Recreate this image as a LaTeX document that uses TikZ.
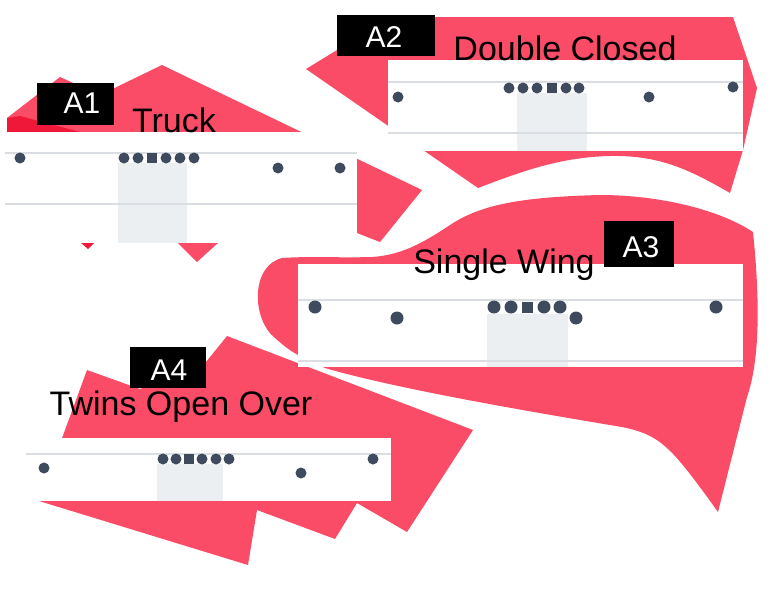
\documentclass[tikz,border=0pt]{standalone}
\usepackage{fontspec}
\setmainfont{Liberation Sans}
\definecolor{blobred}{RGB}{250,76,103}
\definecolor{blobdark}{RGB}{240,24,56}
\definecolor{dotgrey}{RGB}{62,75,94}
\definecolor{linegrey}{RGB}{218,221,226}
\definecolor{shadegrey}{RGB}{236,239,241}
\tikzset{
  blob/.style={draw opacity=0,fill=blobred},
  panel/.style={draw=none,fill=white},
  gridline/.style={draw=linegrey,line width=2},
  shadebox/.style={draw=none,fill=shadegrey},
  dot/.style={fill=dotgrey},
  tagbox/.style={fill=black},
  tagtext/.style={text=white,font=\fontsize{30}{36}\selectfont,anchor=base,inner sep=0},
  title/.style={text=black,font=\fontsize{34}{40}\selectfont,anchor=base,inner sep=0},
}
\begin{document}
\begin{tikzpicture}[x=1pt,y=1pt,yscale=-1,xscale=1]
\useasboundingbox (0,0) rectangle (770,595);

%Shape: Polygon [A1 back]
\draw [blob] (60,77) -- (100,95) -- (162,65) -- (422,190) -- (380,242) -- (357,233) -- (219,242) -- (197,262) -- (177,242) -- (7,242) -- (7,118) -- cycle ;
%Shape: Polygon [A1 dark corner]
\draw [blob,fill=blobdark] (7,118) -- (20,116) -- (80,132) -- (95,242) -- (88,249) -- (80,242) -- (7,200) -- cycle ;
%Shape: Polygon [A2 back]
\draw [blob] (306,69) -- (391,17) -- (733,17) -- (757,88) -- (743,150) -- (730,193) .. controls (690,170) and (660,155) .. (610,156) .. controls (560,157) and (520,172) .. (478,188) -- cycle ;
%Shape: Blob [A3 back]
\draw [blob] (282,258) .. controls (250,266) and (252,320) .. (275,338) .. controls (285,347) and (292,352) .. (300,356) -- (325,368) .. controls (400,390) and (550,415) .. (622,427) .. controls (660,435) and (670,445) .. (718,512) -- (747,397) .. controls (760,360) and (760,300) .. (753,232) .. controls (720,210) and (660,195) .. (600,195) .. controls (520,197) and (480,205) .. (450,225) .. controls (420,245) and (400,255) .. (372,257) .. controls (340,258) and (310,256) .. cycle ;
%Shape: Polygon [A4 back]
\draw [blob] (87,370) -- (140,389) -- (206,362) -- (227,336) -- (473,430) -- (407,532) -- (357,503) -- (335,539) -- (257,510) -- (248,565) -- (39,501) -- cycle ;

%Panel A1
\draw [panel] (5,132) rectangle (357,243) ;
\draw [shadebox] (118,163) rectangle (187,243) ;
\draw [gridline] (5,153) -- (357,153) ;
\draw [gridline] (5,204) -- (357,204) ;
\fill [dot] (20,158) circle (5.5) (124,158) circle (5.5) (138,158) circle (5.5) (166,158) circle (5.5) (180,158) circle (5.5) (194,158) circle (5.5) ;
\fill [dot] (147,153) rectangle (157,163) ;
\fill [dot] (278,168) circle (5.5) (340,168) circle (5.5) ;

%Panel A2
\draw [panel] (388,60) rectangle (743,151) ;
\draw [shadebox] (517,93) rectangle (587,151) ;
\draw [gridline] (388,82) -- (743,82) ;
\draw [gridline] (388,133) -- (743,133) ;
\fill [dot] (398,97) circle (5.5) (509,88) circle (5.5) (523,88) circle (5.5) (537,88) circle (5.5) (566,88) circle (5.5) (579,88) circle (5.5) ;
\fill [dot] (547,83) rectangle (557,93) ;
\fill [dot] (649,97) circle (5.5) (733,87) circle (5.5) ;

%Panel A3
\draw [panel] (298,264) rectangle (743,367) ;
\draw [shadebox] (487,314) rectangle (568,367) ;
\draw [gridline] (298,300) -- (743,300) ;
\draw [gridline] (298,361) -- (743,361) ;
\fill [dot] (315,307) circle (6.5) (397,318) circle (6.5) (494,307) circle (6.5) (511,307) circle (6.5) (544,307) circle (6.5) (560,307) circle (6.5) ;
\fill [dot] (521.5,301.5) rectangle (532.5,312.5) ;
\fill [dot] (576,318) circle (6.5) (716,307) circle (6.5) ;

%Panel A4
\draw [panel] (26,438) rectangle (391,501) ;
\draw [shadebox] (157,464) rectangle (223,501) ;
\draw [gridline] (26,454) -- (391,454) ;
\fill [dot] (44,468) circle (5.5) (163,459) circle (5.5) (176,459) circle (5.5) (202,459) circle (5.5) (216,459) circle (5.5) (229,459) circle (5.5) ;
\fill [dot] (184,454) rectangle (194,464) ;
\fill [dot] (301,473) circle (5.5) (373,459) circle (5.5) ;

%Tags
\fill [tagbox] (37,83) rectangle (114,125) ;
\node [tagtext] (tagA1) at (82,113) {A1};
\fill [tagbox] (337,15) rectangle (435,56) ;
\node [tagtext] (tagA2) at (384,47) {A2};
\fill [tagbox] (604,221) rectangle (674,267) ;
\node [tagtext] (tagA3) at (641,257) {A3};
\fill [tagbox] (130,347) rectangle (206,388) ;
\node [tagtext] (tagA4) at (169,380) {A4};

%Titles
\node [title] (truck) at (174,132) {Truck};
\node [title] (double) at (565,60) {Double Closed};
\node [title] (single) at (504,273) {Single Wing};
\node [title] (twins) at (181,415) {Twins Open Over};

\end{tikzpicture}
\end{document}
